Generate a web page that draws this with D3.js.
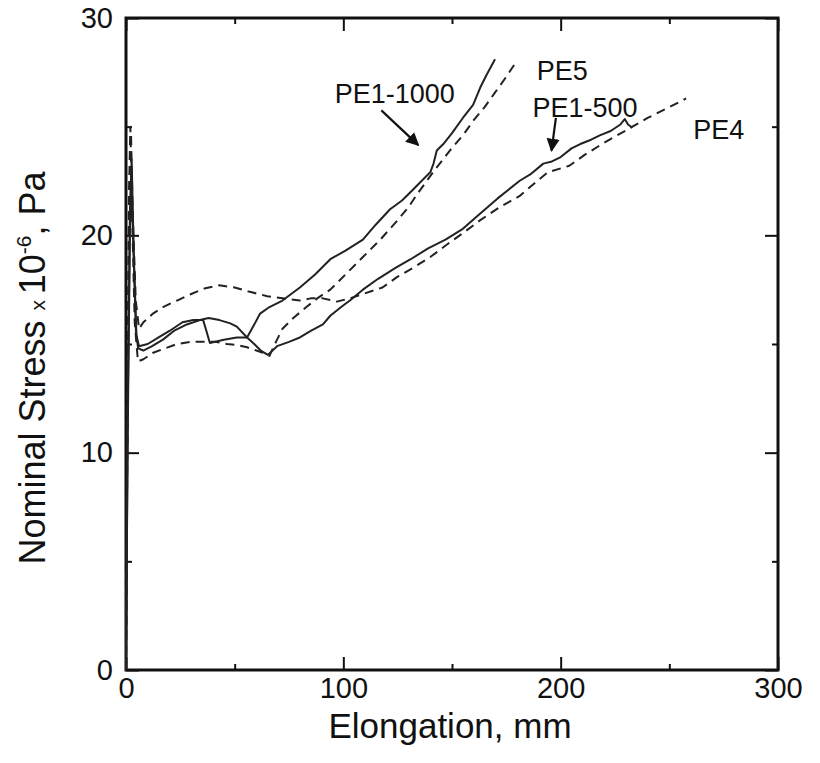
<!DOCTYPE html>
<html>
<head>
<meta charset="utf-8">
<script src="https://cdn.jsdelivr.net/npm/d3@7"></script>
<style>
    body { margin: 0; background: #fff; }
    text { font-family: "Liberation Sans", Arial, sans-serif; fill: #111; }
</style>
</head>
<body>
<svg id="drawing_region"></svg>
<script>
// tick values
const xMajor = [0, 100, 200, 300];
const xMinor = [50, 150, 250];
const yMajor = [0, 10, 20, 30];
const yMinor = [5, 15, 25];

// curves: [elongation mm, stress x1e-6 Pa]
const pe1_1000 = [[0,0],[0.8,12],[1.8,21],[2.6,23.5],[3.6,19],[4.8,15.4],[6,14.9],[10,15.0],[15,15.3],[20,15.6],[26,16.0],[31,16.1],[35.5,16.1],[37,15.6],[38.6,15.05],[45,15.2],[51,15.3],[55.7,15.3],[58.5,15.8],[61.7,16.4],[66,16.7],[72,17.0],[80,17.6],[87,18.2],[94,18.9],[101,19.3],[109,19.8],[115,20.5],[121.5,21.2],[127,21.6],[132,22.1],[137,22.6],[140,22.9],[141.5,23.3],[143,23.9],[146,24.2],[150,24.7],[155,25.4],[159.7,26.0],[163,26.8],[166,27.4],[169.8,28.1]];
const pe1_500 = [[0,0],[0.8,11],[1.8,20],[2.4,22.8],[3.4,19.5],[4.6,15.5],[5.6,14.8],[8,14.7],[12,14.9],[17,15.2],[22,15.6],[28,15.9],[34,16.1],[38,16.2],[43,16.1],[48,15.95],[51,15.8],[55.7,15.3],[59,15.0],[62,14.7],[65.3,14.5],[69.5,14.9],[75,15.1],[80,15.3],[85,15.6],[90.6,15.9],[94,16.3],[99,16.7],[103,17.0],[109,17.5],[116,18.0],[124,18.5],[131,18.9],[139,19.4],[147,19.8],[155,20.3],[163,21.0],[171,21.7],[176,22.1],[181,22.5],[186,22.8],[192,23.3],[196,23.4],[200,23.6],[205,24.0],[209,24.2],[214,24.4],[218,24.6],[223,24.8],[227.5,25.1],[229.5,25.35],[231,25.1],[233,24.95]];
const pe5 = [[0,0],[0.6,12],[1.4,22],[2,25],[2.8,21],[4,16],[5.5,14.2],[8,14.3],[12.5,14.6],[18,14.8],[23.5,15.0],[30,15.1],[35.5,15.1],[41,15.1],[46.5,15.0],[51,14.95],[55.7,14.85],[60,14.7],[63,14.6],[66,14.45],[69,15.1],[72,15.7],[77,16.2],[83,16.7],[88,17.1],[94,17.5],[101,18.2],[109,19.0],[117,19.8],[125,20.7],[130,21.3],[134,21.9],[142,23.0],[149,23.9],[155,24.6],[160,25.3],[165,25.9],[170,26.6],[175,27.3],[179,27.9]];
const pe4 = [[0,0],[0.7,12],[1.6,22],[2.3,24.7],[3.1,21],[4.5,17],[6,15.7],[8,16.0],[12.4,16.4],[17,16.7],[23.5,17.0],[30,17.3],[36,17.55],[43,17.7],[50,17.6],[57,17.4],[65,17.2],[72,17.1],[80,17.0],[85,17.1],[90.6,17.1],[97,16.95],[103,17.1],[109,17.3],[118,17.6],[125,18.1],[132,18.5],[140,19.0],[148,19.6],[155,20.1],[163,20.7],[172,21.3],[181,21.8],[188,22.4],[194,22.9],[204,23.2],[211,23.7],[219,24.2],[226,24.6],[233,25.0],[240,25.4],[248,25.8],[256,26.2],[257.7,26.3]];

const series = [
    {name: 'PE1-1000', values: pe1_1000, dashed: false},
    {name: 'PE5', values: pe5, dashed: true},
    {name: 'PE1-500', values: pe1_500, dashed: false},
    {name: 'PE4', values: pe4, dashed: true},
];

// label anchor points and arrows (data units)
const labels = [
    {text: 'PE1-1000', at: [96, 26.1]},
    {text: 'PE5', at: [189, 27.15]},
    {text: 'PE1-500', at: [187, 25.45]},
    {text: 'PE4', at: [261, 24.45]},
];
const arrows = [
    {from: [117.5, 25.75], to: [134.5, 24.15]},
    {from: [197.8, 25.4], to: [195.8, 23.9]},
];

const config = {
    width: 820, height: 763,
    margin: {top: 18, right: 42, bottom: 93, left: 126},
};

const svg = d3.select('#drawing_region')
    .attr('width', config.width)
    .attr('height', config.height);

const iw = config.width - config.margin.left - config.margin.right;
const ih = config.height - config.margin.top - config.margin.bottom;

const chart = svg.append('g')
    .attr('transform', `translate(${config.margin.left}, ${config.margin.top})`);

const xscale = d3.scaleLinear().domain([0, 300]).range([0, iw]);
const yscale = d3.scaleLinear().domain([0, 30]).range([ih, 0]);

// arrowhead
svg.append('defs').append('marker')
    .attr('id', 'head')
    .attr('viewBox', '0 0 10 10')
    .attr('refX', 9).attr('refY', 5)
    .attr('markerWidth', 6).attr('markerHeight', 6)
    .attr('markerUnits', 'strokeWidth')
    .attr('orient', 'auto')
    .append('path')
    .attr('d', 'M0,0 L10,5 L0,10 z')
    .attr('fill', '#111');

function styleAxis(g) {
    g.select('.domain').remove();
    g.selectAll('.tick line').attr('stroke', '#111').attr('stroke-width', 2);
}

// axes, ticks pointing inward
chart.append('g').attr('transform', `translate(0, ${ih})`)
    .call(d3.axisBottom(xscale).tickValues(xMajor).tickSize(-13).tickPadding(7).tickFormat(d3.format('d')))
    .call(styleAxis);
chart.append('g').attr('transform', `translate(0, ${ih})`)
    .call(d3.axisBottom(xscale).tickValues(xMinor).tickSize(-6).tickFormat(''))
    .call(styleAxis);
chart.append('g')
    .call(d3.axisTop(xscale).tickValues(xMajor).tickSize(-13).tickFormat(''))
    .call(styleAxis);
chart.append('g')
    .call(d3.axisTop(xscale).tickValues(xMinor).tickSize(-6).tickFormat(''))
    .call(styleAxis);

chart.append('g')
    .call(d3.axisLeft(yscale).tickValues(yMajor).tickSize(-13).tickPadding(13).tickFormat(d3.format('d')))
    .call(styleAxis);
chart.append('g')
    .call(d3.axisLeft(yscale).tickValues(yMinor).tickSize(-6).tickFormat(''))
    .call(styleAxis);
chart.append('g').attr('transform', `translate(${iw}, 0)`)
    .call(d3.axisRight(yscale).tickValues(yMajor).tickSize(-13).tickFormat(''))
    .call(styleAxis);
chart.append('g').attr('transform', `translate(${iw}, 0)`)
    .call(d3.axisRight(yscale).tickValues(yMinor).tickSize(-6).tickFormat(''))
    .call(styleAxis);

chart.selectAll('.tick text')
    .attr('font-size', 29)
    .attr('font-family', '"Liberation Sans", Arial, sans-serif')
    .attr('fill', '#111');

// frame
chart.append('rect')
    .attr('width', iw).attr('height', ih)
    .attr('fill', 'none').attr('stroke', '#111').attr('stroke-width', 3);

// curves
const line = d3.line()
    .x(d => xscale(d[0]))
    .y(d => yscale(d[1]));

chart.selectAll('path.curve').data(series)
    .join('path')
    .attr('class', 'curve')
    .attr('d', d => line(d.values))
    .attr('fill', 'none')
    .attr('stroke', '#222')
    .attr('stroke-width', 2)
    .attr('stroke-linejoin', 'round')
    .attr('stroke-dasharray', d => d.dashed ? '9,6' : null);

// labels + arrows
chart.selectAll('text.lab').data(labels)
    .join('text')
    .attr('class', 'lab')
    .attr('x', d => xscale(d.at[0]))
    .attr('y', d => yscale(d.at[1]))
    .attr('font-size', 27)
    .text(d => d.text);

chart.selectAll('line.arrow').data(arrows)
    .join('line')
    .attr('class', 'arrow')
    .attr('x1', d => xscale(d.from[0])).attr('y1', d => yscale(d.from[1]))
    .attr('x2', d => xscale(d.to[0])).attr('y2', d => yscale(d.to[1]))
    .attr('stroke', '#111').attr('stroke-width', 2.2)
    .attr('marker-end', 'url(#head)');

// axis titles
svg.append('text')
    .attr('x', config.margin.left + iw / 2 - 2)
    .attr('y', 738)
    .attr('text-anchor', 'middle')
    .attr('font-size', 35)
    .text('Elongation, mm');

const yt = svg.append('text')
    .attr('transform', `translate(45, ${config.margin.top + ih / 2 + 24}) rotate(-90)`)
    .attr('text-anchor', 'middle')
    .attr('font-size', 36);
yt.append('tspan').text('Nominal Stress ');
yt.append('tspan').attr('font-size', 21).text('x ');
yt.append('tspan').text('10');
yt.append('tspan').attr('font-size', 21).attr('dy', -14).text('-6');
yt.append('tspan').attr('dy', 14).text(', Pa');
</script>
</body>
</html>
